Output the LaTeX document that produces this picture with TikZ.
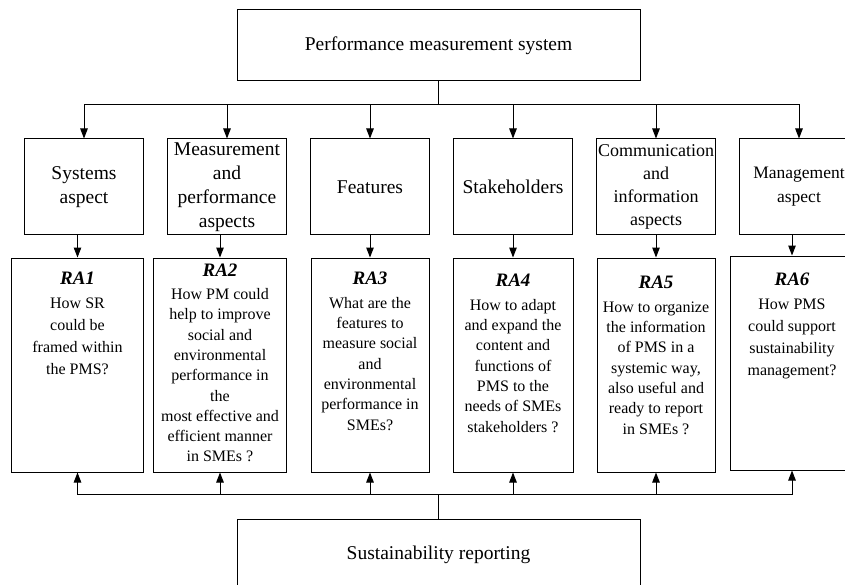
\documentclass[tikz,border=0pt]{standalone}
\usepackage{fontspec}
\setmainfont{Liberation Serif}
\usepackage{tikz}
\usetikzlibrary{positioning,arrows.meta}
\newcommand{\rahead}[1]{{\fontsize{19}{24}\selectfont\bfseries\itshape #1}}
\tikzset{
topbox/.style={
draw,
line width=1pt,
minimum width=403pt,
minimum height=71pt,
font=\fontsize{19.5}{24}\selectfont
},
aspect/.style={
draw,
line width=1pt,
minimum width=119pt,
minimum height=96pt,
inner sep=1pt,
align=center,
font=\fontsize{19.5}{24}\selectfont
},
rabox/.style={
draw,
line width=1pt,
minimum height=214pt,
inner sep=0pt
},
ratext/.style={
align=center,
inner sep=0pt,
font=\fontsize{16}{20.3}\selectfont
},
link/.style={
line width=1pt
},
arrow/.style={
-{Triangle[length=10pt,width=7.5pt]},
line width=1pt
}
}

\begin{document}
\begin{tikzpicture}[x=1pt,y=1pt,node distance=23pt]
\useasboundingbox (0,0) rectangle (845,-585);
\node[topbox](pms) at (438.5,-45.5){Performance measurement system};
\node[aspect](sys) at (84,-187){Systems\\aspect};
\node[aspect,right=of sys](meas){Measurement\\and\\performance\\aspects};
\node[aspect,right=of meas](feat){Features};
\node[aspect,right=of feat](stak){Stakeholders};
\node[aspect,right=of stak,font=\fontsize{18}{23}\selectfont](comm){Communication\\and\\information\\aspects};
\node[aspect,right=of comm,font=\fontsize{17.5}{24}\selectfont](mgmt){Management\\aspect};

\node[rabox,minimum width=132pt,below=22pt of sys.south east,anchor=north east](ra1){};
\node[rabox,minimum width=133pt,below=22pt of meas.south east,anchor=north east](ra2){};
\node[rabox,minimum width=118pt,below=22pt of feat](ra3){};
\node[rabox,minimum width=120pt,below=22pt of stak](ra4){};
\node[rabox,minimum width=118pt,below=22pt of comm](ra5){};
\node[rabox,minimum width=124pt,below=20pt of mgmt.south west,anchor=north west,xshift=-9.5pt](ra6){};

\node[ratext,below=14.7pt of ra1.north,font=\fontsize{16}{22}\selectfont](q1){\rahead{RA1}\\[2pt]How SR\\could be\\framed within\\the PMS?};
\node[ratext,below=6pt of ra2.north](q2){\rahead{RA2}\\[3pt]How PM could\\help to improve\\social and\\environmental\\performance in\\the\\most effective and\\efficient manner\\in SMEs ?};
\node[ratext,below=14.7pt of ra3.north](q3){\rahead{RA3}\\[3pt]What are the\\features to\\measure social\\and\\environmental\\performance in\\SMEs?};
\node[ratext,below=16.7pt of ra4.north](q4){\rahead{RA4}\\[3pt]How to adapt\\and expand the\\content and\\functions of\\PMS to the\\needs of SMEs\\stakeholders ?};
\node[ratext,below=18.7pt of ra5.north](q5){\rahead{RA5}\\[3pt]How to organize\\the information\\of PMS in a\\systemic way,\\also useful and\\ready to report\\in SMEs ?};
\node[ratext,below=17.7pt of ra6.north,font=\fontsize{16}{22}\selectfont](q6){\rahead{RA6}\\[2pt]How PMS\\could support\\sustainability\\management?};

\node[topbox](sr) at (438.5,-554.5){Sustainability reporting};

\coordinate[below=23pt of pms.south](tbus);
\coordinate[above=24pt of sr.north](bbus);

\draw[link](pms)--(tbus);
\draw[arrow](tbus)-|(sys);
\draw[arrow](tbus)-|(meas);
\draw[arrow](tbus)-|(feat);
\draw[arrow](tbus)-|(stak);
\draw[arrow](tbus)-|(comm);
\draw[arrow](tbus)-|(mgmt);

\draw[arrow](ra1.north |- sys.south)--(ra1.north);
\draw[arrow](ra2.north |- meas.south)--(ra2.north);
\draw[arrow](ra3.north |- feat.south)--(ra3.north);
\draw[arrow](ra4.north |- stak.south)--(ra4.north);
\draw[arrow](ra5.north |- comm.south)--(ra5.north);
\draw[arrow](ra6.north |- mgmt.south)--(ra6.north);

\draw[link](sr)--(bbus);
\draw[arrow](bbus)-|(ra1);
\draw[arrow](bbus)-|(ra2);
\draw[arrow](bbus)-|(ra3);
\draw[arrow](bbus)-|(ra4);
\draw[arrow](bbus)-|(ra5);
\draw[arrow](bbus)-|(ra6);
\end{tikzpicture}
\end{document}
